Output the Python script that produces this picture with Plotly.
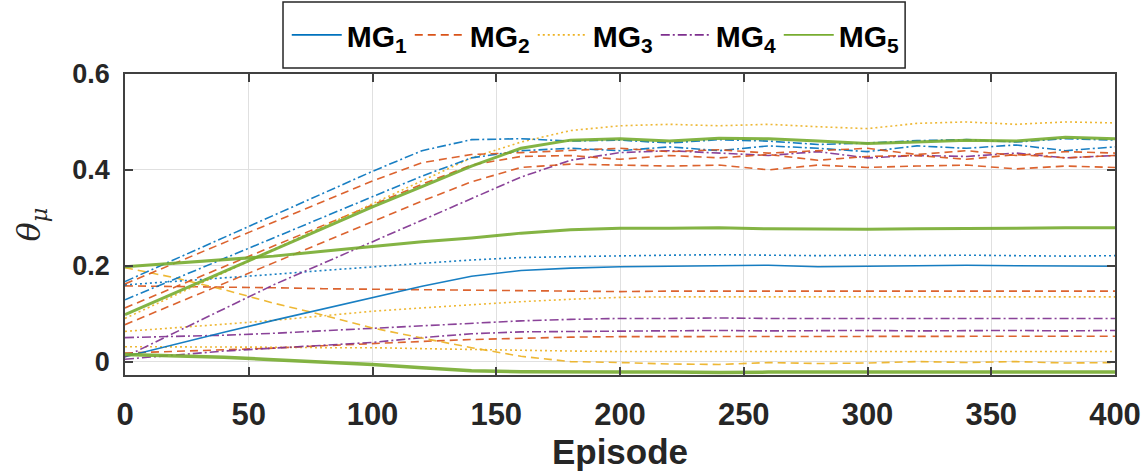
import plotly.graph_objects as go

episodes = list(range(0, 401, 20))

# ---- rising group (upper cluster) ----
mg1_dashdot_top = [0.167, 0.213, 0.259, 0.305, 0.351, 0.397, 0.440, 0.463, 0.465, 0.460, 0.462,
                   0.456, 0.463, 0.460, 0.453, 0.456, 0.461, 0.463, 0.458, 0.465, 0.462]
mg2_dash_top = [0.162, 0.205, 0.248, 0.291, 0.334, 0.377, 0.415, 0.432, 0.436, 0.440, 0.445,
                0.438, 0.442, 0.435, 0.440, 0.445, 0.432, 0.440, 0.430, 0.438, 0.435]
mg1_dashdot_mid = [0.129, 0.172, 0.215, 0.258, 0.301, 0.344, 0.387, 0.425, 0.440, 0.445, 0.440,
                   0.448, 0.440, 0.450, 0.445, 0.438, 0.450, 0.445, 0.452, 0.440, 0.448]
mg2_dash_mid = [0.112, 0.155, 0.198, 0.241, 0.284, 0.327, 0.370, 0.410, 0.428, 0.430, 0.422,
                0.430, 0.425, 0.432, 0.420, 0.428, 0.430, 0.422, 0.432, 0.425, 0.430]
mg3_dot_top = [0.090, 0.138, 0.186, 0.234, 0.282, 0.330, 0.378, 0.425, 0.458, 0.482, 0.492,
               0.495, 0.492, 0.495, 0.490, 0.486, 0.497, 0.500, 0.495, 0.500, 0.498]
mg5_top = [0.098, 0.143, 0.188, 0.233, 0.278, 0.323, 0.365, 0.408, 0.445, 0.462, 0.465,
           0.460, 0.466, 0.465, 0.460, 0.455, 0.458, 0.462, 0.460, 0.468, 0.465]
mg2_dash_low = [0.077, 0.120, 0.163, 0.206, 0.249, 0.292, 0.335, 0.375, 0.405, 0.412, 0.410,
                0.408, 0.410, 0.400, 0.410, 0.405, 0.408, 0.410, 0.402, 0.408, 0.405]
mg4_dashdot_rise = [0.010, 0.060, 0.110, 0.160, 0.205, 0.250, 0.295, 0.340, 0.385, 0.420, 0.436,
                    0.440, 0.435, 0.430, 0.438, 0.425, 0.430, 0.428, 0.435, 0.425, 0.430]

# ---- middle / lower lines ----
mg5_mid = [0.198, 0.205, 0.212, 0.220, 0.230, 0.240, 0.250, 0.258, 0.268, 0.275, 0.278,
           0.278, 0.279, 0.277, 0.276, 0.276, 0.277, 0.277, 0.278, 0.279, 0.279]
mg1_dot = [0.160, 0.167, 0.174, 0.182, 0.190, 0.198, 0.205, 0.212, 0.217, 0.219, 0.221,
           0.222, 0.223, 0.222, 0.221, 0.222, 0.221, 0.222, 0.221, 0.220, 0.221]
mg1_solid = [0.010, 0.036, 0.061, 0.086, 0.110, 0.133, 0.157, 0.178, 0.190, 0.195, 0.198,
             0.199, 0.200, 0.201, 0.198, 0.199, 0.200, 0.201, 0.200, 0.199, 0.199]
mg2_dash_flat = [0.158, 0.157, 0.155, 0.154, 0.152, 0.151, 0.149, 0.148, 0.147, 0.147, 0.146,
                 0.147, 0.147, 0.146, 0.147, 0.146, 0.147, 0.147, 0.147, 0.146, 0.147]
mg3_dash_fall = [0.196, 0.175, 0.150, 0.122, 0.097, 0.070, 0.049, 0.029, 0.011, 0.000, -0.002,
                 -0.005, -0.006, -0.002, -0.004, -0.003, 0.000, -0.002, 0.000, -0.003, -0.002]
mg3_dot_mid = [0.063, 0.070, 0.078, 0.086, 0.095, 0.105, 0.112, 0.119, 0.125, 0.130, 0.134,
               0.135, 0.135, 0.136, 0.135, 0.135, 0.136, 0.135, 0.135, 0.136, 0.135]
mg4_dashdot_a = [0.050, 0.052, 0.055, 0.059, 0.064, 0.070, 0.075, 0.080, 0.085, 0.088, 0.090,
                 0.090, 0.091, 0.090, 0.090, 0.091, 0.090, 0.090, 0.091, 0.090, 0.090]
mg4_dashdot_b = [0.005, 0.014, 0.022, 0.028, 0.034, 0.040, 0.050, 0.058, 0.062, 0.063, 0.064,
                 0.064, 0.065, 0.064, 0.065, 0.065, 0.064, 0.065, 0.065, 0.064, 0.065]
mg2_dash_bottom = [0.018, 0.021, 0.024, 0.028, 0.033, 0.038, 0.042, 0.046, 0.049, 0.051, 0.052,
                   0.052, 0.053, 0.052, 0.053, 0.053, 0.052, 0.053, 0.053, 0.052, 0.053]
mg3_dot_low = [0.031, 0.031, 0.030, 0.030, 0.029, 0.029, 0.027, 0.025, 0.023, 0.022, 0.021,
               0.021, 0.021, 0.020, 0.021, 0.021, 0.020, 0.021, 0.021, 0.021, 0.021]
mg5_low = [0.015, 0.012, 0.009, 0.004, -0.001, -0.006, -0.013, -0.019, -0.021, -0.022, -0.022,
           -0.022, -0.023, -0.022, -0.022, -0.023, -0.022, -0.022, -0.023, -0.022, -0.022]

legend_names = ["MG<sub>1</sub>", "MG<sub>2</sub>", "MG<sub>3</sub>", "MG<sub>4</sub>", "MG<sub>5</sub>"]

C1, C2, C3, C4, C5 = "#0072BD", "#D95319", "#EDB120", "#7E2F8E", "#77AC30"
DASH = "8px,5px"
DOT = "2px,3px"
DASHDOT = "9px,3px,2px,3px"

series = [
    (mg2_dash_flat, C2, DASH, 1.6),
    (mg2_dash_bottom, C2, DASH, 1.6),
    (mg3_dot_low, C3, DOT, 1.6),
    (mg3_dot_mid, C3, DOT, 1.6),
    (mg4_dashdot_a, C4, DASHDOT, 1.6),
    (mg4_dashdot_b, C4, DASHDOT, 1.6),
    (mg3_dash_fall, C3, DASH, 1.6),
    (mg1_dot, C1, DOT, 1.6),
    (mg1_solid, C1, "solid", 1.6),
    (mg4_dashdot_rise, C4, DASHDOT, 1.6),
    (mg2_dash_low, C2, DASH, 1.6),
    (mg2_dash_mid, C2, DASH, 1.6),
    (mg3_dot_top, C3, DOT, 1.6),
    (mg1_dashdot_mid, C1, DASHDOT, 1.6),
    (mg2_dash_top, C2, DASH, 1.6),
    (mg1_dashdot_top, C1, DASHDOT, 1.6),
    (mg5_mid, C5, "solid", 3.0),
    (mg5_top, C5, "solid", 3.0),
    (mg5_low, C5, "solid", 3.5),
]

fig = go.Figure()
for vals, col, dash, w in series:
    fig.add_trace(go.Scatter(x=episodes, y=vals, mode="lines", showlegend=False,
                             line=dict(color=col, dash=dash, width=w), opacity=0.9,
                             hoverinfo="skip"))

legend_styles = [(C1, "solid"), (C2, DASH), (C3, DOT), (C4, DASHDOT), (C5, "solid")]
for name, (col, dash) in zip(legend_names, legend_styles):
    fig.add_trace(go.Scatter(x=[None], y=[None], mode="lines", name="<b>" + name + "</b>",
                             line=dict(color=col, dash=dash, width=1.6)))

FONT = "Liberation Sans, Arial, sans-serif"
fig.update_layout(
    width=1145, height=474,
    margin=dict(l=125, r=30, t=74, b=99, autoexpand=False),
    paper_bgcolor="white", plot_bgcolor="white",
    font=dict(family=FONT, color="#262626"),
    legend=dict(orientation="h", x=0.474, xanchor="center", y=1.13, yanchor="middle",
                borderwidth=0, bgcolor="rgba(0,0,0,0)",
                font=dict(size=30, family=FONT, color="#000000"),
                itemwidth=50, entrywidth=58),
    shapes=[dict(type="rect", xref="paper", yref="paper",
                 x0=0.1596, x1=0.788, y0=1.02, y1=1.239,
                 line=dict(color="#262626", width=1.5), fillcolor="rgba(0,0,0,0)")],
    xaxis=dict(range=[0, 400], tickvals=list(range(0, 401, 50)), automargin=False,
               showgrid=True, gridcolor="#e0e0e0", gridwidth=1,
               showline=True, linecolor="#404040", linewidth=1.5, mirror="ticks",
               ticks="inside", ticklen=8, tickcolor="#404040", tickwidth=1.5,
               tickfont=dict(size=31, family=FONT, weight="bold", color="#262626"),
               ticklabelstandoff=11, zeroline=False,
               title=dict(text="<b>Episode</b>", font=dict(size=35, family=FONT, color="#262626"),
                          standoff=6)),
    yaxis=dict(range=[-0.028, 0.6], tickvals=[0, 0.2, 0.4, 0.6], ticktext=["0", "0.2", "0.4", "0.6"],
               automargin=False,
               showgrid=True, gridcolor="#e0e0e0", gridwidth=1,
               showline=True, linecolor="#404040", linewidth=1.5, mirror="ticks",
               ticks="inside", ticklen=8, tickcolor="#404040", tickwidth=1.5,
               tickfont=dict(size=27, family=FONT, weight="bold", color="#262626"),
               ticklabelstandoff=8, zeroline=False,
               title=dict(text="<i>θ</i><sub><i>μ</i></sub>", font=dict(size=32, family="DejaVu Serif", color="#262626"),
                          standoff=22)),
)

fig.write_html("out.html")
